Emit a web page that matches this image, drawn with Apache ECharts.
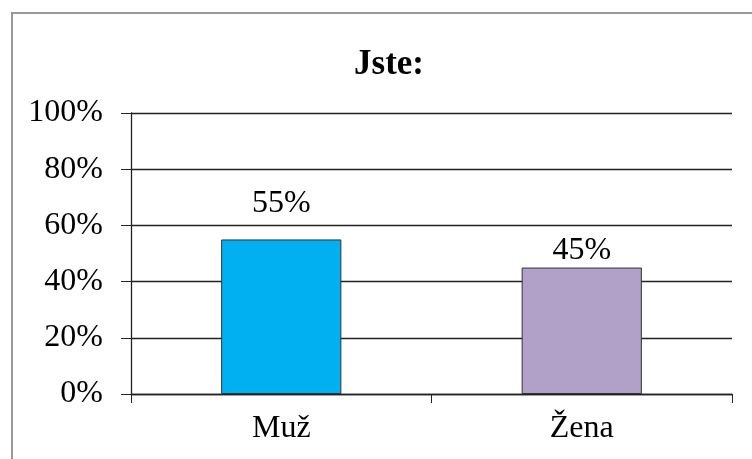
<html>
<head>
    <meta charset="utf-8">
    <title>Jste</title>
    <script src="https://cdn.jsdelivr.net/npm/echarts@6/dist/echarts.min.js"></script>
    <style>
        html, body { margin: 0; padding: 0; background: #fff; }
        #main { width: 752px; height: 459px; }
    </style>
</head>
<body>
    <div id="main"></div>
    <script type="text/javascript">
        // data
        var categories = ['Muž', 'Žena'];
        var values = [55, 45];
        var barColors = ['#00B0F0', '#B1A0C7'];
        var labelGap = [20, 1];   // Excel put the two labels at different heights

        var serif = '"Liberation Serif", "Times New Roman", serif';
        var myChart = echarts.init(document.getElementById('main'));

        var barData = values.map(function (v, i) {
            return {
                value: v,
                itemStyle: { color: barColors[i] },
                label: { distance: labelGap[i] }
            };
        });

        var option = {
            animation: false,
            title: {
                text: 'Jste:',
                left: 384,
                textAlign: 'center',
                top: 42,
                textStyle: { fontFamily: serif, fontSize: 35, fontWeight: 'bold', color: '#000' }
            },
            // chart frame like the Excel border
            graphic: [{
                type: 'rect',
                shape: { x: 12, y: 13, width: 800, height: 500 },
                style: { fill: 'none', stroke: '#999', lineWidth: 2 }
            }],
            grid: { left: 131, right: 20, top: 113, bottom: 65 },
            xAxis: {
                type: 'category',
                data: categories,
                axisLine: { lineStyle: { color: '#222', width: 1.3 } },
                axisTick: { show: true, length: 9, lineStyle: { color: '#222' } },
                axisLabel: { fontFamily: serif, fontSize: 32, color: '#000', margin: 19 }
            },
            yAxis: {
                type: 'value',
                min: 0,
                max: 100,
                interval: 20,
                axisLine: { show: true, lineStyle: { color: '#222', width: 1.3 } },
                axisTick: { show: true, length: 10, lineStyle: { color: '#222' } },
                splitLine: { lineStyle: { color: '#222', width: 1.3 } },
                axisLabel: { fontFamily: serif, fontSize: 32, color: '#000', margin: 28, formatter: '{value}%' }
            },
            series: [{
                type: 'bar',
                data: barData,
                barWidth: '40%',
                itemStyle: { borderColor: '#333', borderWidth: 1 },
                label: {
                    show: true,
                    position: 'top',
                    formatter: '{c}%',
                    fontFamily: serif,
                    fontSize: 32,
                    color: '#000'
                }
            }]
        };
        myChart.setOption(option);
    </script>
</body>
</html>
